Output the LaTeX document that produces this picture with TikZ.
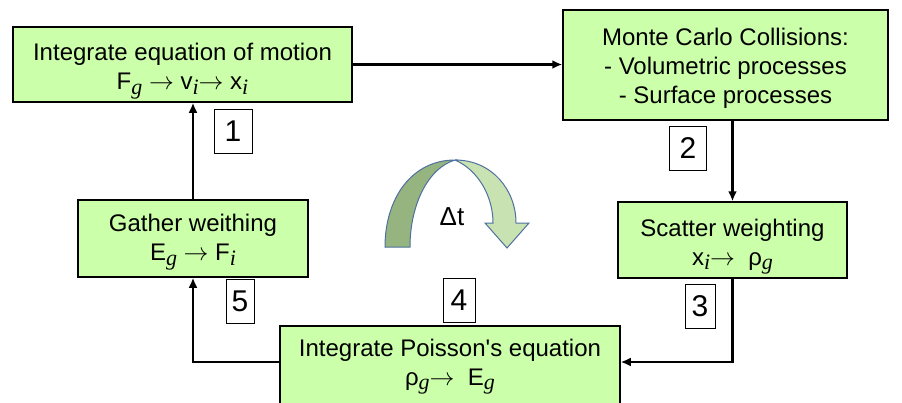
\documentclass[tikz,border=0pt]{standalone}
\usepackage{fontspec}
\setmainfont{Liberation Sans}
\newfontfamily\subfont{Liberation Serif}
\usetikzlibrary{arrows.meta}
\definecolor{boxgreen}{RGB}{204,255,170}
\definecolor{arcdark}{RGB}{150,180,128}
\definecolor{arclight}{RGB}{200,226,178}
\definecolor{arcline}{RGB}{79,112,158}
\newcommand{\idx}[1]{\raisebox{-0.35ex}{\fontsize{22}{22}\subfont\itshape #1}}
\newcommand{\lift}[1][31pt]{\rule{0pt}{#1}}
\begin{document}
\begin{tikzpicture}[x=1pt,y=-1pt,
			box/.style={draw, line width=1.5pt, fill=boxgreen, align=center, inner sep=0pt, font=\fontsize{24}{29}\selectfont},
			num/.style={draw, fill=white, line width=0.9pt, minimum height=44, inner sep=0pt, font=\fontsize{30}{30}\selectfont},
			arrow/.style={line width=2.4pt, -{Latex[length=10pt,width=9pt]}}
			]
			\useasboundingbox (0,0) rectangle (902,402);
			
			% Nodes
			\node[box, minimum width=339, minimum height=75] (motion) at (182.5,64.5)
				{\lift Integrate equation of motion\\F\idx{g} $\rightarrow$ v\idx{i}$\rightarrow$ x\idx{i}};
			\node[box, minimum width=325, minimum height=110] (mcc) at (725.5,65)
				{\lift[24pt]Monte Carlo Collisions:\\- Volumetric processes\\- Surface processes};
			\node[box, minimum width=229, minimum height=76] (scatter) at (732.5,240)
				{\lift Scatter weighting\\x\idx{i}$\rightarrow$\ \ ρ\idx{g}};
			\node[box, minimum width=340, minimum height=78] (poisson) at (450,365)
				{\lift[21pt]Integrate Poisson\textquotesingle s equation\\ρ\idx{g}$\rightarrow$\ \ E\idx{g}};
			\node[box, minimum width=230, minimum height=77] (gather) at (193,238.5)
				{\lift[25pt]Gather weithing\\E\idx{g} $\rightarrow$ F\idx{i}};
			
			% Step numbers
			\node[num, minimum width=38] (n1) at (233,131) {1};
			\node[num, minimum width=37] (n2) at (688,148) {2};
			\node[num, minimum width=30] (n3) at (700,306) {3};
			\node[num, minimum width=32] (n4) at (459,300) {4};
			\node[num, minimum width=28] (n5) at (240,301) {5};
			
			% Cycle
			\draw[arrow] (motion.east) -- (motion.east -| mcc.west);
			\draw[arrow] (scatter.north |- mcc.south) -- (scatter.north);
			\draw[arrow] (scatter.south) |- ([yshift=3pt]poisson.east);
			\draw[arrow] ([yshift=3pt]poisson.west) -| (gather.south);
			\draw[arrow] (gather.north) -- (gather.north |- motion.south);
			
			% Time step arc
			\draw[arcline, line width=1pt, fill=arcdark] (385,247) .. controls (385,198) and (412,160) .. (455,160)
				.. controls (428,168) and (410,205) .. (410,247) -- cycle;
			\draw[arcline, line width=1pt, fill=arclight] (455,160) .. controls (492,160) and (516,190) .. (516,223)
				-- (529,223) -- (507,248) -- (485,223) -- (493,223) .. controls (493,196) and (478,170) .. (455,160);
			\node[font=\fontsize{26}{26}\selectfont] (dt) at (452,217) {Δt};
		\end{tikzpicture}
\end{document}
